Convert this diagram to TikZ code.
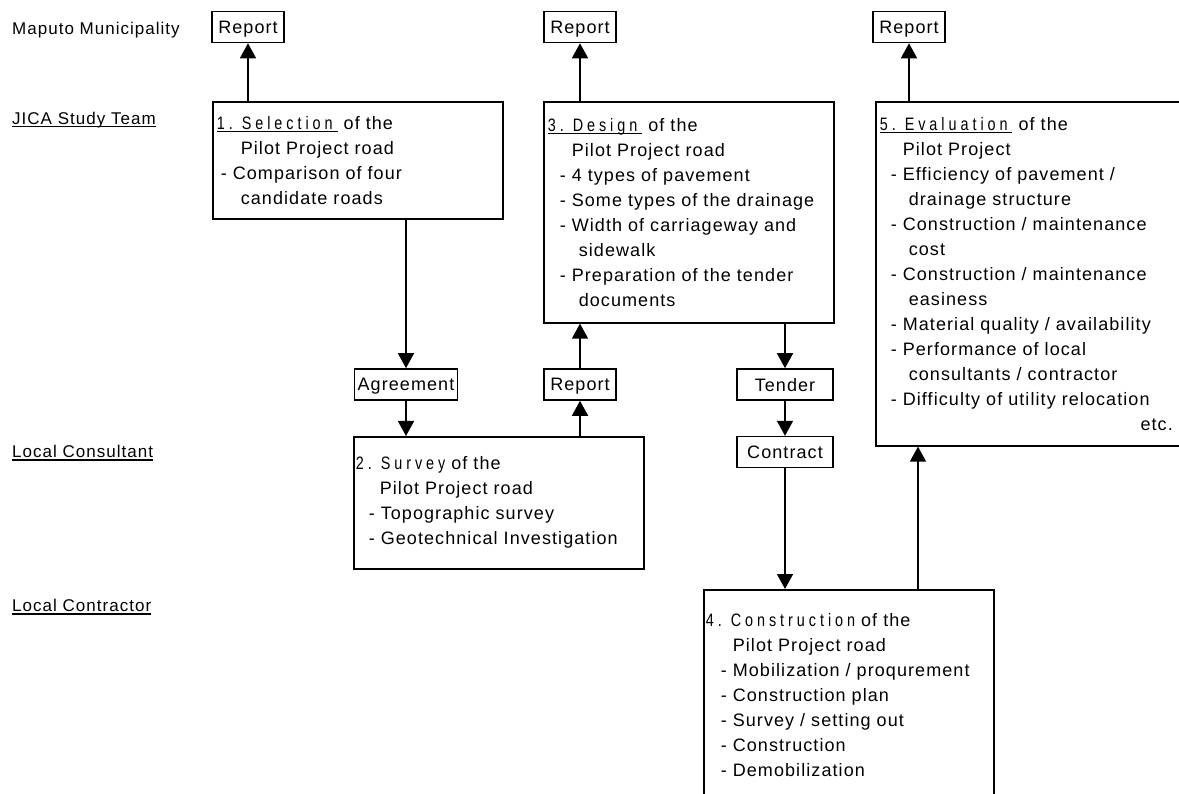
\documentclass[tikz,border=0pt]{standalone}
\usepackage{fontspec}
\setmainfont{Liberation Sans}[LetterSpace=6]
\usetikzlibrary{positioning,arrows.meta}

% spaced step title and a thick underline
\newcommand{\spaced}[1]{{\addfontfeature{FakeStretch=0.8,LetterSpace=22}#1}}
\newcommand{\ulin}[1]{\setbox0=\hbox{#1}\rlap{\rule[-3pt]{\wd0}{1.6pt}}\box0}

\begin{document}
\begin{tikzpicture}[x=1pt, y=1pt, font=\fontsize{18}{25}\selectfont,
  stagebox/.style={draw, line width=1.6pt, text width=282pt, inner xsep=4pt, align=left, anchor=north west},
  tagbox/.style={draw, line width=1.6pt, minimum height=31pt, minimum width=72pt, inner xsep=3pt, inner ysep=0pt, text depth=0pt},
  role/.style={anchor=west, inner sep=0pt, font=\fontsize{17}{25}\selectfont},
  arr/.style={line width=1.6pt, -{Triangle[width=16pt,length=15pt]}}]
  \useasboundingbox (0,0) rectangle (1179,-794);
  \clip (0,0) rectangle (1179,-794);

  % rows
  \node[role] (mm) at (12,-30) {Maputo Municipality};
  \node[role] (jst) at (12,-120) {\ulin{JICA Study Team}};
  \node[role] (lcs) at (12,-453) {\ulin{Local Consultant}};
  \node[role] (lct) at (12,-607) {\ulin{Local Contractor}};

  % steps
  \node[stagebox, minimum height=117pt] (sel) at (212,-101) {\ulin{\spaced{1. Selection}\hspace{5pt}}\hspace{6pt}of the\\
    \hspace*{24pt}Pilot Project road\\
    \hspace*{4pt}- Comparison of four\\
    \hspace*{24pt}candidate roads};
  \node[stagebox, minimum height=221pt] (des) at (543,-101) {\ulin{\spaced{3. Design}\hspace{5pt}}\hspace{6pt}of the\\
    \hspace*{24pt}Pilot Project road\\
    \hspace*{12pt}- 4 types of pavement\\
    \hspace*{12pt}- Some types of the drainage\\
    \hspace*{12pt}- Width of carriageway and\\
    \hspace*{31pt}sidewalk\\
    \hspace*{12pt}- Preparation of the tender\\
    \hspace*{31pt}documents};
  \node[stagebox, text width=312pt, minimum height=344pt] (eva) at (875,-101) {\ulin{\spaced{5. Evaluation}\hspace{4pt}}\hspace{7pt}of the\\
    \hspace*{23pt}Pilot Project\\
    \hspace*{11pt}- Efficiency of pavement /\\
    \hspace*{29pt}drainage structure\\
    \hspace*{11pt}- Construction / maintenance\\
    \hspace*{29pt}cost\\
    \hspace*{11pt}- Construction / maintenance\\
    \hspace*{29pt}easiness\\
    \hspace*{11pt}- Material quality / availability\\
    \hspace*{11pt}- Performance of local\\
    \hspace*{29pt}consultants / contractor\\
    \hspace*{11pt}- Difficulty of utility relocation\\
    \makebox[293pt][r]{etc.}};
  \node[stagebox, minimum height=132pt] (sur) at (353,-436) {\hspace*{-2pt}\spaced{2. Survey} of the\\
    \hspace*{22pt}Pilot Project road\\
    \hspace*{11pt}- Topographic survey\\
    \hspace*{11pt}- Geotechnical Investigation};
  \node[stagebox, minimum height=210pt] (con) at (703,-589) {\hspace*{-2pt}\spaced{4. Construction} of the\\
    \hspace*{25pt}Pilot Project road\\
    \hspace*{13pt}- Mobilization / proqurement\\
    \hspace*{13pt}- Construction plan\\
    \hspace*{13pt}- Survey / setting out\\
    \hspace*{13pt}- Construction\\
    \hspace*{13pt}- Demobilization};

  % documents
  \node[tagbox] (rep1) at (248,-27) {Report};
  \node[tagbox] (rep3) at (580,-27) {Report};
  \node[tagbox] (rep5) at (909,-27) {Report};
  \node[tagbox] (agr) at (406,-384.5) {Agreement};
  \node[tagbox] (rep2) at (580,-384.5) {Report};
  \node[tagbox, minimum width=96pt] (ten) at (785,-384.5) {Tender};
  \node[tagbox, minimum width=96pt] (ctr) [below=35pt of ten] {Contract};

  \draw[arr] (sel.north -| rep1) -- (rep1.south);
  \draw[arr] (des.north -| rep3) -- (rep3.south);
  \draw[arr] (eva.north -| rep5) -- (rep5.south);
  \draw[arr] (agr |- sel.south) -- (agr.north);
  \draw[arr] (agr.south) -- (agr |- sur.north);
  \draw[arr] (rep2 |- sur.north) -- (rep2.south);
  \draw[arr] (rep2.north) -- (rep2 |- des.south);
  \draw[arr] (ten |- des.south) -- (ten.north);
  \draw[arr] (ten.south) -- (ctr.north);
  \draw[arr] (ctr.south) -- (ctr |- con.north);
  \draw[arr] ([xshift=215pt]con.north west) -- ([xshift=215pt]con.north west |- eva.south);
\end{tikzpicture}
\end{document}
